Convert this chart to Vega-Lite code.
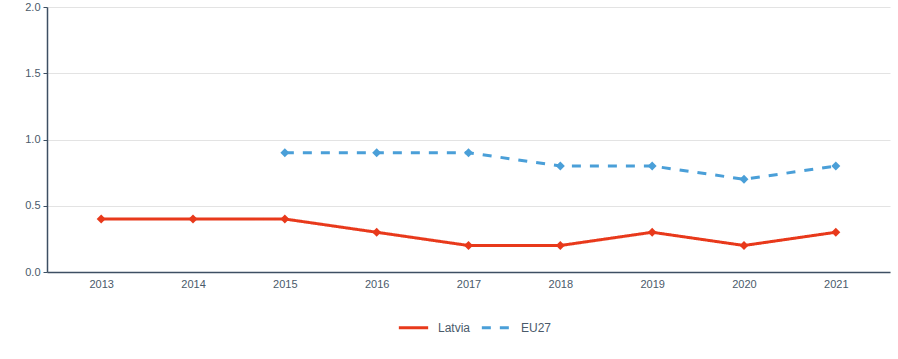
{
  "$schema": "https://vega.github.io/schema/vega-lite/v6.json",
  "width": 843,
  "height": 265,
  "autosize": {"type": "none"},
  "padding": {"left": 47, "top": 7, "right": 8, "bottom": 87},
  "config": {
    "view": {"stroke": null},
    "font": "Liberation Sans",
    "axis": {"labelFont": "Liberation Sans", "labelFontSize": 11, "labelColor": "#4a5a6a", "domainColor": "#3d4f63", "tickColor": "#3d4f63", "domainWidth": 1.5, "gridColor": "#e3e3e3", "gridWidth": 1}
  },
  "data": {"values": [
    {"year": "2013", "value": 0.4, "series": "Latvia"},
    {"year": "2014", "value": 0.4, "series": "Latvia"},
    {"year": "2015", "value": 0.4, "series": "Latvia"},
    {"year": "2016", "value": 0.3, "series": "Latvia"},
    {"year": "2017", "value": 0.2, "series": "Latvia"},
    {"year": "2018", "value": 0.2, "series": "Latvia"},
    {"year": "2019", "value": 0.3, "series": "Latvia"},
    {"year": "2020", "value": 0.2, "series": "Latvia"},
    {"year": "2021", "value": 0.3, "series": "Latvia"},
    {"year": "2015", "value": 0.9, "series": "EU27"},
    {"year": "2016", "value": 0.9, "series": "EU27"},
    {"year": "2017", "value": 0.9, "series": "EU27"},
    {"year": "2018", "value": 0.8, "series": "EU27"},
    {"year": "2019", "value": 0.8, "series": "EU27"},
    {"year": "2020", "value": 0.7, "series": "EU27"},
    {"year": "2021", "value": 0.8, "series": "EU27"}
  ]},
  "encoding": {
    "x": {"field": "year", "type": "ordinal", "scale": {"type": "point", "padding": 0.59},
      "axis": {"title": null, "labelAngle": 0, "grid": false, "ticks": false, "labelPadding": 6}},
    "y": {"field": "value", "type": "quantitative", "scale": {"domain": [0, 2]},
      "axis": {"title": null, "values": [0, 0.5, 1, 1.5, 2], "format": ".1f", "tickSize": 4, "labelPadding": 3, "domain": true}},
    "color": {"field": "series", "type": "nominal", "scale": {"domain": ["Latvia", "EU27"], "range": ["#e8391b", "#4a9fd8"]}}
  },
  "layer": [
    {
      "mark": {"type": "line", "strokeWidth": 3},
      "encoding": {
        "strokeDash": {"field": "series", "type": "nominal", "scale": {"domain": ["Latvia", "EU27"], "range": [[1, 0], [9, 9]]}},
        "color": {"field": "series", "type": "nominal", "scale": {"domain": ["Latvia", "EU27"], "range": ["#e8391b", "#4a9fd8"]},
          "legend": {"title": null, "orient": "none", "legendX": 350, "legendY": 304, "direction": "horizontal", "symbolType": "stroke", "symbolSize": 860, "symbolStrokeWidth": 3, "labelFontSize": 12, "labelColor": "#4a5a6a", "labelFont": "Liberation Sans", "columnPadding": 4, "labelOffset": 8}}
      }
    },
    {
      "mark": {"type": "point", "shape": "diamond", "filled": true, "size": 80, "opacity": 1},
      "encoding": {"color": {"field": "series", "type": "nominal", "legend": null}}
    }
  ]
}
